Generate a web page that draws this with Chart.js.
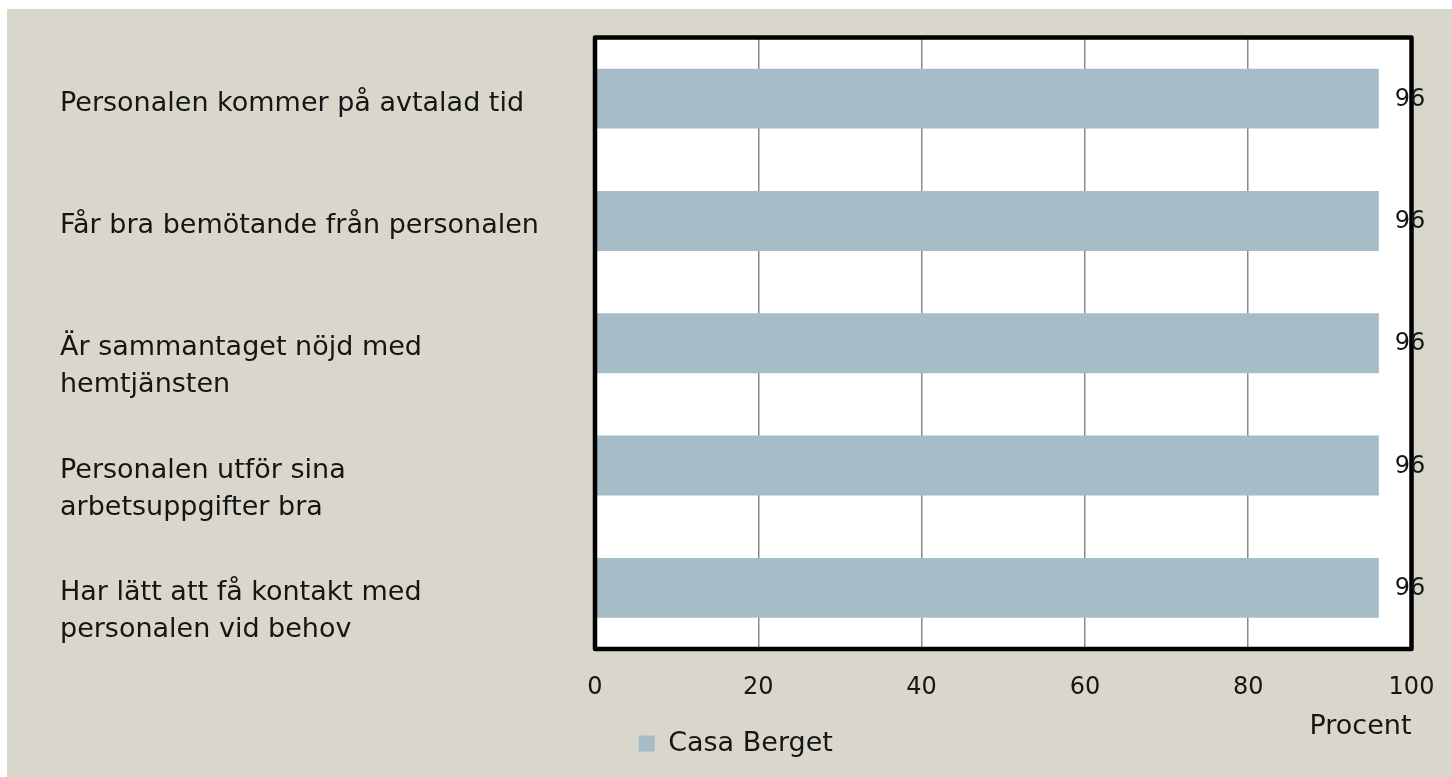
<!DOCTYPE html>
<html>
<head>
<meta charset="utf-8">
<script src="https://cdn.jsdelivr.net/npm/chart.js@4.4.1/dist/chart.umd.min.js"></script>
<style>
  html, body { margin: 0; padding: 0; background: #fff; }
  #wrap { width: 1452px; height: 777px; position: relative; }
</style>
</head>
<body>
<div id="wrap"><canvas id="myChart"></canvas></div>
<script>
// categories, top to bottom (multi-line ones start with an empty line so the text sits low, as in the original)
const categories = [
  'Personalen kommer på avtalad tid',
  'Får bra bemötande från personalen',
  ['', 'Är sammantaget nöjd med', 'hemtjänsten'],
  ['', 'Personalen utför sina', 'arbetsuppgifter bra'],
  ['', 'Har lätt att få kontakt med', 'personalen vid behov']
];
const seriesName = 'Casa Berget';
const seriesValues = [96, 96, 96, 96, 96];
const xTicks = [0, 20, 40, 60, 80, 100];
const xTitle = 'Procent';

const FONT = "'DejaVu Sans', sans-serif";
const TEXT = '#151515';

// beige page behind the chart, with the thin white strip on top/left
const background = {
  id: 'background',
  beforeDraw(chart) {
    const { ctx, width, height } = chart;
    ctx.save();
    ctx.fillStyle = '#ffffff';
    ctx.fillRect(0, 0, width, height);
    ctx.fillStyle = '#d9d7cb';
    ctx.fillRect(7, 9, width - 7, height - 9);
    // white plot area
    const a = chart.chartArea;
    ctx.fillStyle = '#ffffff';
    ctx.fillRect(a.left, a.top, a.right - a.left, a.bottom - a.top);
    ctx.restore();
  }
};

// thick black frame round the plot area, then the value labels
const frameAndLabels = {
  id: 'frameAndLabels',
  afterDatasetsDraw(chart) {
    const { ctx } = chart;
    const a = chart.chartArea;
    ctx.save();
    ctx.strokeStyle = '#000';
    ctx.lineWidth = 4.5;
    ctx.lineJoin = 'round';
    ctx.strokeRect(a.left, a.top, a.right - a.left, a.bottom - a.top);

    ctx.fillStyle = TEXT;
    ctx.font = '24px ' + FONT;
    ctx.textAlign = 'left';
    ctx.textBaseline = 'middle';
    chart.getDatasetMeta(0).data.forEach((bar, i) => {
      ctx.fillText(String(seriesValues[i]), bar.x + 16, bar.y + 1);
    });
    ctx.restore();
  }
};

const ctx = document.getElementById('myChart');
new Chart(ctx, {
  type: 'bar',
  data: {
    labels: categories,
    datasets: [{
      label: seriesName,
      data: seriesValues,
      backgroundColor: '#a6bcc7',
      borderWidth: 0,
      barPercentage: 0.49,
      categoryPercentage: 1
    }]
  },
  options: {
    indexAxis: 'y',
    responsive: true,
    maintainAspectRatio: false,
    animation: false,
    devicePixelRatio: 1,
    layout: { padding: { left: 60, right: 40.5, top: 37.5, bottom: 10 } },
    plugins: {
      tooltip: { enabled: false },
      legend: {
        position: 'bottom',
        labels: {
          color: TEXT,
          font: { family: FONT, size: 27 },
          boxWidth: 16,
          boxHeight: 16,
          padding: 9
        }
      }
    },
    scales: {
      x: {
        min: 0,
        max: 100,
        afterBuildTicks(scale) {
          scale.ticks = xTicks.map(v => ({ value: v }));
        },
        afterFit(scale) {
          scale.height = 72;
          scale.paddingLeft = 0;
          scale.paddingRight = 0;
        },
        grid: { color: '#8a8a8a', lineWidth: 1.5, drawTicks: false },
        border: { display: false },
        ticks: {
          color: TEXT,
          font: { family: FONT, size: 24 },
          padding: 24
        },
        title: {
          display: true,
          text: xTitle,
          align: 'end',
          color: TEXT,
          font: { family: FONT, size: 27 },
          padding: { top: 0, bottom: -22 }
        }
      },
      y: {
        afterFit(scale) {
          scale.width = 595 - 60;
          scale.paddingTop = 0;
          scale.paddingBottom = 0;
        },
        grid: { display: false },
        border: { display: false },
        ticks: {
          crossAlign: 'far',
          labelOffset: 5,
          color: TEXT,
          font: { family: FONT, size: 27, lineHeight: 1.37 }
        }
      }
    }
  },
  plugins: [background, frameAndLabels]
});
</script>
</body>
</html>
